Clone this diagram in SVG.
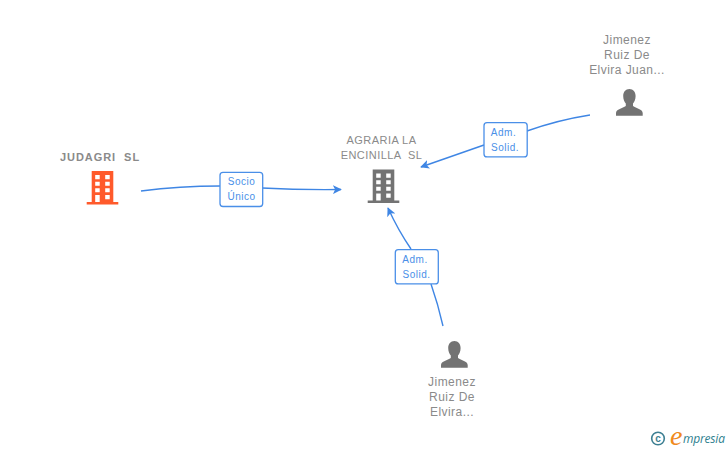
<svg xmlns="http://www.w3.org/2000/svg" width="728" height="450" viewBox="0 0 728 450">
<style>
text{font-family:"Liberation Sans",Arial,sans-serif}
.lbl{font-size:12px;fill:#8a8a8a;text-anchor:middle;letter-spacing:.45px;white-space:pre}
.up{font-size:11px}
.b{font-weight:bold;letter-spacing:.95px}
.edge{fill:none;stroke:#3f86e4;stroke-width:1.4}
.box{fill:#fff;stroke:#4a8fe8;stroke-width:1.3}
.et{font-size:10px;fill:#4a8fe8;text-anchor:middle;letter-spacing:.5px}
.win{fill:#fff}
.logo{font-style:italic}
</style>
<defs>
<marker id="arr" viewBox="0 0 10 10" refX="9" refY="5" markerWidth="9" markerHeight="9" markerUnits="userSpaceOnUse" orient="auto">
<path d="M0 0L10 5L0 10L2.5 5Z" fill="#3f86e4"/>
</marker>
<g id="bld">
<path d="M5 0H26.6V31H31.6V33.4H0V31H5Z"/>
<path class="win" d="M8.5 4H13V8.3H8.5ZM18.5 4H23V8.3H18.5ZM8.5 10.7H13V14.8H8.5ZM18.5 10.7H23V14.8H18.5ZM8.5 17.3H13V21.3H8.5ZM18.5 17.3H23V21.3H18.5ZM8.5 24H13V31H8.5ZM18.5 24H23V28.3H18.5Z"/>
</g>
<path id="per" d="M13.4 0C17.3 0 19.6 3 19.6 7C19.6 10.5 18.3 13 17 14.5V17C20 19.5 26.7 20 26.7 24V26.8H0V24C0 20 6.7 19.5 9.8 17V14.5C8.5 13 7.2 10.5 7.2 7C7.2 3 9.5 0 13.4 0Z"/>
</defs>
<rect width="728" height="450" fill="#fff"/>
<g id="connectors">
<path class="edge" d="M141 191Q180 186 220 186"/>
<path class="edge" d="M262 188Q300 190 341 189.5" marker-end="url(#arr)"/>
<path class="edge" d="M590 115Q558 120 527 131"/>
<path class="edge" d="M484 145L421 167" marker-end="url(#arr)"/>
<path class="edge" d="M443 326Q438 304 431 284"/>
<path class="edge" d="M411 249Q398 230 388 208" marker-end="url(#arr)"/>
</g>
<g id="edge-label-1"><rect class="box" x="220" y="172.3" width="42.7" height="34.2" rx="3"/><text class="et" x="241.5" y="185">Socio</text><text class="et" x="241.5" y="200">Único</text></g>
<g id="edge-label-2"><rect class="box" x="484" y="122.7" width="43.2" height="34.2" rx="3"/><text class="et" x="503.5" y="136">Adm.</text><text class="et" x="505" y="151">Solid.</text></g>
<g id="edge-label-3"><rect class="box" x="395.3" y="249.7" width="43" height="34.2" rx="3"/><text class="et" x="415" y="263">Adm.</text><text class="et" x="416.5" y="278">Solid.</text></g>
<g id="node-judagri"><text class="lbl up b" x="100" y="161">JUDAGRI  SL</text><use href="#bld" x="86.7" y="171" fill="#ff5a2b"/></g>
<g id="node-agraria"><text class="lbl up" x="381.5" y="144">AGRARIA LA</text><text class="lbl up" x="381.5" y="159">ENCINILLA  SL</text><use href="#bld" x="367.7" y="169.5" fill="#737373"/></g>
<g id="node-person-1"><text class="lbl" x="627" y="44">Jimenez</text><text class="lbl" x="627" y="59">Ruiz De</text><text class="lbl" x="627" y="74">Elvira Juan...</text><use href="#per" x="616" y="89" fill="#737373"/></g>
<g id="node-person-2"><text class="lbl" x="452" y="386">Jimenez</text><text class="lbl" x="452" y="401">Ruiz De</text><text class="lbl" x="452" y="416">Elvira...</text><use href="#per" x="441" y="341" fill="#737373"/></g>
<g id="logo"><circle cx="658" cy="438.5" r="6.3" fill="none" stroke="#3d7f92" stroke-width="1.6"/><text x="658" y="442" font-size="10" font-weight="bold" fill="#3d7f92" text-anchor="middle">c</text><text class="logo" x="670" y="445" font-size="28" fill="#f08a1d" style='font-family:"Liberation Serif",serif'>e</text><text class="logo" x="683" y="443" font-size="12" fill="#2f7f8f" textLength="42" style='font-family:"Open Sans",sans-serif'>mpresia</text></g>
</svg>
